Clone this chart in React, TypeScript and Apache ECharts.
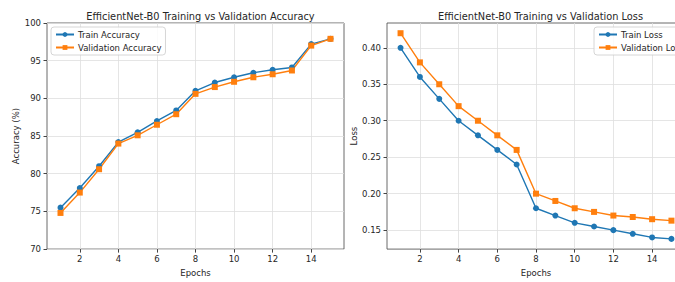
import React, { useEffect, useRef } from "react";
import * as echarts from "echarts";

const epochs = [1, 2, 3, 4, 5, 6, 7, 8, 9, 10, 11, 12, 13, 14, 15];
const trainAcc = [75.5, 78.1, 81.0, 84.2, 85.5, 87.0, 88.4, 91.0, 92.1, 92.8, 93.4, 93.8, 94.1, 97.2, 97.9];
const valAcc = [74.8, 77.5, 80.6, 84.0, 85.1, 86.5, 87.9, 90.6, 91.5, 92.2, 92.8, 93.2, 93.7, 97.0, 97.9];
const trainLoss = [0.40, 0.36, 0.33, 0.30, 0.28, 0.26, 0.24, 0.18, 0.17, 0.16, 0.155, 0.15, 0.145, 0.14, 0.138];
const valLoss = [0.42, 0.38, 0.35, 0.32, 0.30, 0.28, 0.26, 0.20, 0.19, 0.18, 0.175, 0.17, 0.168, 0.165, 0.163];
const xTicks = [2, 4, 6, 8, 10, 12, 14];
const lossTicks = [0.15, 0.2, 0.25, 0.3, 0.35, 0.4];

const BLUE = "#1f77b4";
const ORANGE = "#ff7f0e";
const FONT = "DejaVu Sans";
const TXT = "#262626";

export default function App() {
  const ref = useRef<HTMLDivElement>(null);
  useEffect(() => {
    if (!ref.current) return;
    const chart = echarts.init(ref.current, null, { renderer: "svg" });
    const pair = (ys: number[]) => epochs.map((e, i) => [e, ys[i]]);
    const xAxisBase = (gridIndex: number) => ({
      type: "value" as const,
      gridIndex,
      min: 0.3,
      max: 15.7,
      name: "Epochs",
      nameLocation: "middle" as const,
      nameGap: 15,
      nameTextStyle: { fontFamily: FONT, fontSize: 8.5, color: TXT },
      axisLine: { show: false },
      axisTick: { show: true, length: 3.5, customValues: xTicks, lineStyle: { color: "#444" } },
      axisLabel: { customValues: xTicks, fontFamily: FONT, fontSize: 8.5, color: TXT, margin: 5 },
      splitLine: { show: true, lineStyle: { color: "#dedede", width: 0.8 } },
    });
    const seriesBase = (name: string, data: number[], color: string, symbol: string, idx: number) => ({
      type: "line" as const,
      name,
      xAxisIndex: idx,
      yAxisIndex: idx,
      data: pair(data),
      symbol,
      symbolSize: 6,
      showSymbol: true,
      lineStyle: { color, width: 1.4 },
      itemStyle: { color },
    });
    const legendBase = {
      orient: "vertical" as const,
      top: 27,
      itemWidth: 18,
      itemHeight: 6,
      itemGap: 4,
      padding: [3, 4, 3, 4],
      borderColor: "#cccccc",
      borderWidth: 0.8,
      borderRadius: 3,
      backgroundColor: "rgba(255,255,255,0.85)",
      textStyle: { fontFamily: FONT, fontSize: 8.5, color: TXT, padding: [0, 0, 0, -1] },
    };
    chart.setOption({
      animation: false,
      backgroundColor: "#fff",
      title: [
        {
          text: "EfficientNet-B0 Training vs Validation Accuracy",
          left: 195.5,
          top: 6,
          textAlign: "center",
          textStyle: { fontFamily: FONT, fontSize: 9.8, fontWeight: "normal", color: TXT },
        },
        {
          text: "EfficientNet-B0 Training vs Validation Loss",
          left: 535.5,
          top: 6,
          textAlign: "center",
          textStyle: { fontFamily: FONT, fontSize: 9.8, fontWeight: "normal", color: TXT },
        },
      ],
      legend: [
        { ...legendBase, data: ["Train Accuracy", "Validation Accuracy"], left: 51 },
        { ...legendBase, data: ["Train Loss", "Validation Loss"], left: 594 },
      ],
      grid: [
        { left: 47, top: 23, width: 297, height: 231, show: true, borderColor: "#444", borderWidth: 0.8, backgroundColor: "transparent" },
        { left: 387, top: 23, width: 298, height: 231, show: true, borderColor: "#444", borderWidth: 0.8, backgroundColor: "transparent" },
      ],
      xAxis: [xAxisBase(0), xAxisBase(1)],
      yAxis: [
        {
          type: "value",
          gridIndex: 0,
          min: 70,
          max: 100,
          interval: 5,
          name: "Accuracy (%)",
          nameLocation: "middle",
          nameGap: 22,
          nameTextStyle: { fontFamily: FONT, fontSize: 8.5, color: TXT },
          axisLine: { show: false },
          axisTick: { show: true, length: 3.5, lineStyle: { color: "#444" } },
          axisLabel: { fontFamily: FONT, fontSize: 8.5, color: TXT, margin: 6 },
          splitLine: { show: true, lineStyle: { color: "#dedede", width: 0.8 } },
        },
        {
          type: "value",
          gridIndex: 1,
          min: 0.124,
          max: 0.434,
          name: "Loss",
          nameLocation: "middle",
          nameGap: 25,
          nameTextStyle: { fontFamily: FONT, fontSize: 8.5, color: TXT },
          axisLine: { show: false },
          axisTick: { show: true, length: 3.5, customValues: lossTicks, lineStyle: { color: "#444" } },
          axisLabel: {
            customValues: lossTicks,
            fontFamily: FONT,
            fontSize: 8.5,
            color: TXT,
            margin: 6,
            formatter: (v: number) => v.toFixed(2),
          },
          splitLine: { show: true, lineStyle: { color: "#dedede", width: 0.8 } },
        },
      ],
      series: [
        seriesBase("Train Accuracy", trainAcc, BLUE, "circle", 0),
        seriesBase("Validation Accuracy", valAcc, ORANGE, "rect", 0),
        seriesBase("Train Loss", trainLoss, BLUE, "circle", 1),
        seriesBase("Validation Loss", valLoss, ORANGE, "rect", 1),
      ],
    });
    return () => chart.dispose();
  }, []);
  return (
    <div style={{ position: "fixed", left: 0, top: 0, width: 675, height: 282, overflow: "hidden", background: "#fff" }}>
      <div ref={ref} style={{ width: 700, height: 282 }} />
    </div>
  );
}
